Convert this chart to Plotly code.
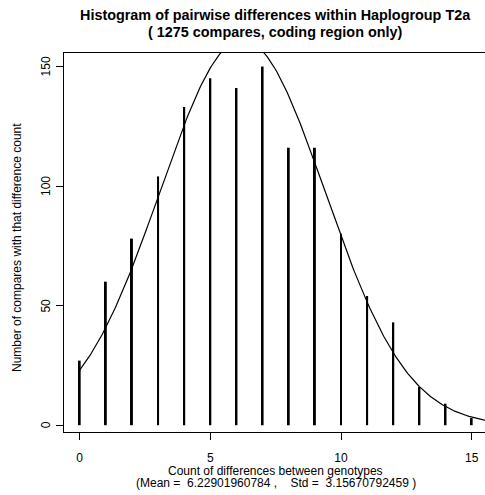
import numpy as np
import plotly.graph_objects as go

# Data
diff_counts = list(range(16))
n_compares = [27, 60, 78, 104, 133, 145, 141, 150, 116, 116, 80, 54, 43, 16, 9, 3]
x_tick_vals = [0, 5, 10, 15]
y_tick_vals = [0, 50, 100, 150]

x_arr = np.array(diff_counts, dtype=float)
n_arr = np.array(n_compares, dtype=float)
total = n_arr.sum()
mean = (x_arr * n_arr).sum() / total
std = np.sqrt(((x_arr - mean) ** 2 * n_arr).sum() / total)

# Fitted normal curve scaled to counts
cx = np.linspace(0, 16, 321)
cy = total / (std * np.sqrt(2 * np.pi)) * np.exp(-((cx - mean) ** 2) / (2 * std ** 2))

FONT = "Liberation Sans, Arial, Helvetica, sans-serif"
W, H = 485, 495
plot_l, plot_t, plot_b = 64, 53, 63
plot_w, plot_h = W - plot_l, H - plot_t - plot_b


def px_x(p):
    return (p - plot_l) / plot_w


def px_y(p):
    return 1 - (p - plot_t) / plot_h


fig = go.Figure()
fig.add_trace(go.Bar(x=diff_counts, y=n_compares, width=0.075,
                     marker=dict(color="black", line=dict(width=0)),
                     hoverinfo="x+y"))
fig.add_trace(go.Scatter(x=cx, y=cy, mode="lines",
                         line=dict(color="black", width=1.2)))

ann = [
    dict(text="<b>Histogram of pairwise differences within Haplogroup T2a</b>",
         x=px_x(275.6), y=px_y(15), size=14.4),
    dict(text="<b>( 1275 compares, coding region only)</b>",
         x=px_x(275.6), y=px_y(32), size=14.4),
    dict(text="Count of differences between genotypes",
         x=px_x(275.6), y=px_y(470.5), size=12),
    dict(text="(Mean =&nbsp; 6.22901960784 ,&nbsp;&nbsp;&nbsp; Std =&nbsp; 3.15670792459 )",
         x=px_x(275.6), y=px_y(482.5), size=12),
]
annotations = [dict(text=a["text"], x=a["x"], y=a["y"], xref="paper", yref="paper",
                    xanchor="center", yanchor="middle", showarrow=False,
                    font=dict(size=a["size"], family=FONT, color="black")) for a in ann]
annotations.append(dict(text="Number of compares with that difference count",
                        x=px_x(17), y=px_y(248), xref="paper", yref="paper",
                        xanchor="center", yanchor="middle", showarrow=False, textangle=-90,
                        font=dict(size=12, family=FONT, color="black")))
# rotated y tick labels (R style, las=0)
for v in y_tick_vals:
    annotations.append(dict(text=str(v), x=px_x(46), y=v, xref="paper", yref="y",
                            xanchor="center", yanchor="middle", showarrow=False,
                            textangle=-90, font=dict(size=12, family=FONT, color="black")))

fig.update_layout(
    width=W, height=H,
    margin=dict(l=plot_l, r=0, t=plot_t, b=plot_b),
    paper_bgcolor="white", plot_bgcolor="white",
    showlegend=False,
    font=dict(family=FONT, size=12, color="black"),
    xaxis=dict(range=[-0.6, 15.51], tickvals=x_tick_vals, ticks="outside", ticklen=7,
               tickcolor="black", showgrid=False, zeroline=False, showline=True,
               linecolor="black", linewidth=1, mirror=True,
               tickfont=dict(size=12, color="black", family=FONT), ticklabelstandoff=8),
    yaxis=dict(range=[-2.84, 155.6], tickvals=y_tick_vals, ticks="outside", ticklen=7,
               tickcolor="black", showgrid=False, zeroline=False, showline=True,
               linecolor="black", linewidth=1, showticklabels=False),
    annotations=annotations,
)

fig.write_html("out.html")
